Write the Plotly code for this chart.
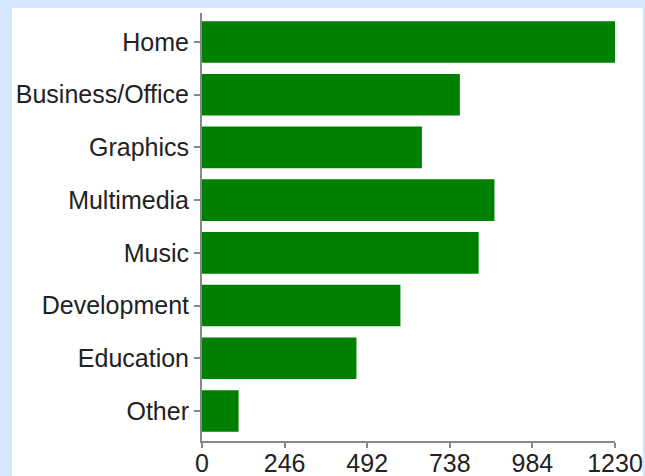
import plotly.graph_objects as go

categories = ["Home", "Business/Office", "Graphics", "Multimedia", "Music",
              "Development", "Education", "Other"]
values = [1230, 768, 655, 871, 824, 591, 460, 109]
tick_values = [0, 246, 492, 738, 984, 1230]
tick_labels = ["0", "246", "492", "738", "984", "1230"]

fig = go.Figure(
    go.Bar(
        x=values,
        y=categories,
        orientation="h",
        marker=dict(color="#008000", line=dict(width=0)),
        width=0.79,
        cliponaxis=False,
    )
)

W, H = 645, 476
ml, mr, mt, mb = 202, 30, 13, 35
pw, ph = W - ml - mr, H - mt - mb

fig.update_layout(
    width=W,
    height=H,
    margin=dict(l=ml, r=mr, t=mt, b=mb, pad=0, autoexpand=False),
    paper_bgcolor="#d5e5fc",
    plot_bgcolor="white",
    showlegend=False,
    font=dict(family="Liberation Sans, Arial, sans-serif", size=25, color="#222222"),
    xaxis=dict(
        range=[0, 1230],
        tickvals=tick_values,
        ticktext=tick_labels,
        showgrid=False,
        zeroline=False,
        showline=True,
        linecolor="#888888",
        linewidth=2,
        ticks="outside",
        ticklen=5,
        tickwidth=1.5,
        tickcolor="#888888",
        tickfont=dict(size=25),
        ticklabelstandoff=-6,
        automargin=False,
        fixedrange=True,
    ),
    yaxis=dict(
        categoryorder="array",
        categoryarray=categories,
        range=[7.57, -0.55],
        showgrid=False,
        zeroline=False,
        showline=True,
        linecolor="#888888",
        linewidth=2,
        ticks="outside",
        ticklen=6,
        tickwidth=1.5,
        tickcolor="#888888",
        tickfont=dict(size=25),
        ticklabelstandoff=0,
        automargin=False,
        fixedrange=True,
    ),
    shapes=[
        dict(
            type="rect",
            xref="paper",
            yref="paper",
            x0=(12 - ml) / pw,
            x1=(642.5 - ml) / pw,
            y0=(H - mb - 480) / ph,
            y1=(H - mb - 8) / ph,
            fillcolor="white",
            line=dict(width=0),
            layer="below",
        )
    ],
)

fig.write_html(
    "out.html",
    config={"displayModeBar": False},
    post_script="document.body.style.margin='0';document.body.style.padding='0';"
                "document.body.style.overflow='hidden';",
)
